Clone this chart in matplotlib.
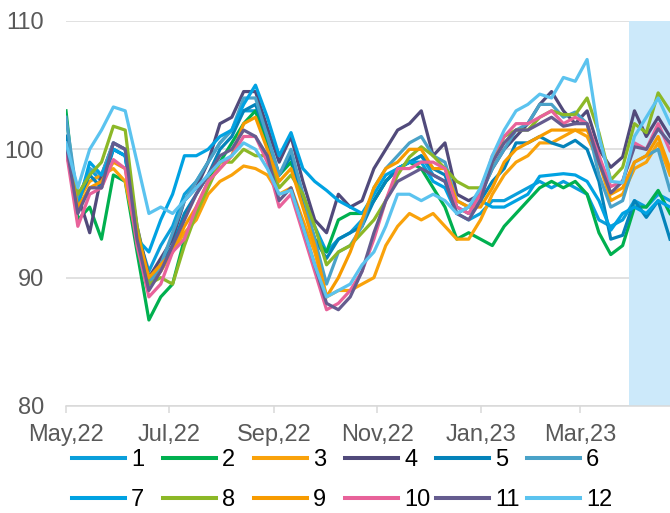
import numpy as np
import pandas as pd
import matplotlib
matplotlib.use("Agg")
import matplotlib.pyplot as plt
import matplotlib.dates as mdates

plt.rcParams['font.family'] = ['Liberation Sans', 'DejaVu Sans']

# weekly readings, May 1 2022 -> Apr 23 2023
dates = pd.date_range('2022-05-01', periods=52, freq='7D')
shade_start = pd.Timestamp('2023-03-30')

s1 = [101, 96, 98.5, 97.5, 100, 99.5, 93.5, 90.5, 92.5, 94, 96.5, 97.5, 99,
      100.5, 101.5, 103, 103, 100.5, 98, 99.5, 96.5, 94, 92, 93, 93.5, 94.5,
      96, 97.5, 98.5, 99, 99.5, 98, 97.5, 95, 94.5, 95, 96, 96, 96.5,
      97, 97.5, 97, 97.5, 97, 96.5, 94.5, 94, 94.5, 96, 95.5, 96.5, 96]
s2 = [103, 94.5, 95.5, 93, 98, 97.5, 92, 86.7, 88.5, 89.5, 93, 95, 97.5,
      99, 100.5, 102, 103, 100.5, 98, 99, 96, 93, 92, 94.5, 95, 95,
      96, 97.5, 98.5, 99, 98.5, 97, 95.5, 93, 93.5, 93, 92.5, 94, 95,
      96, 97, 97.5, 97, 97.5, 96.5, 93.5, 91.8, 92.5, 95.5, 95.5, 96.8, 95]
s3 = [100, 96, 97.5, 98, 98.5, 97.5, 93, 89.5, 90.5, 92, 93.5, 94.5, 96.5,
      97.5, 98, 98.7, 98.5, 98, 96.5, 97, 94.5, 92, 88.5, 89, 89, 89.5,
      90, 92.5, 94, 95, 94.5, 95, 94, 93, 93, 94.5, 96.5, 98, 99,
      99.5, 100.5, 100.5, 101, 101.5, 101, 99, 96, 96.5, 98.5, 99, 100.5, 98]
s4 = [101, 96.5, 93.5, 98, 100.5, 100, 94, 90, 91.5, 93, 96, 97, 99,
      102, 102.5, 104.5, 104.5, 101.7, 99, 101, 97.5, 94.5, 93.5, 96.5, 95.5, 96,
      98.5, 100, 101.5, 102, 103, 99.5, 100.5, 96.5, 96, 96.5, 98.5, 100, 101,
      102, 103.5, 104.5, 103, 102, 103, 100, 98.6, 99.4, 103, 101, 102.5, 101]
s5 = [101, 96, 98, 97, 100, 99.5, 93.5, 89.5, 91, 92.5, 95, 96.5, 98,
      100, 101, 103, 103.5, 101, 98, 99.5, 96, 93, 91.5, 93, 93.5, 94,
      96, 97.5, 98.5, 99, 99.5, 98.5, 98, 95.5, 95, 96, 97.5, 98.5, 100.5,
      100.5, 101, 100.5, 100.2, 100.7, 100, 97.5, 93, 93.3, 96, 94.7, 96, 93]
s6 = [102.5, 96, 98.5, 98, 100.5, 100, 93.5, 89.5, 91, 93.5, 96, 97.5, 99,
      100.5, 101.5, 104, 104, 101, 98, 100, 96.5, 93, 89.5, 92, 92.5, 94,
      97, 98.5, 99.5, 100.5, 101, 99.5, 99, 96, 95.5, 96.5, 98.5, 100, 101.5,
      102, 103.5, 103.5, 102.5, 102.9, 102, 98, 95.5, 96, 99, 99.5, 100, 96.8]
s7 = [100, 95.5, 99, 98, 100, 99.5, 93, 92, 94.5, 96.5, 99.5, 99.5, 100,
      101, 101.5, 103.5, 105, 102.5, 99.5, 101.3, 98.5, 97.5, 96.8, 96, 95.5, 95,
      96.5, 98, 98.5, 99, 99, 97.5, 97, 95, 95.5, 96, 95.5, 95.5, 96,
      96.5, 97.9, 98, 98.1, 98, 97.5, 96, 93.7, 95, 95.5, 95, 96, 95.5]
s8 = [100, 96.5, 98, 99, 101.8, 101.5, 94, 89.5, 90, 89.5, 92.5, 95, 97,
      99, 99, 100, 99.5, 99.5, 97, 98, 96.5, 94, 91, 92, 92.5, 93.5,
      94.5, 96, 98, 99.4, 100.2, 99.5, 98.5, 97.5, 97, 97, 99, 101, 101.5,
      101.5, 102.5, 103, 102.7, 102.7, 104, 101.3, 97.6, 98.6, 102, 101.3, 104.4, 103]
s9 = [100, 95.5, 97, 97.5, 99, 98.5, 93.5, 90, 91, 92, 94, 95.5, 97.5,
      98.5, 99.5, 102, 102.5, 100, 97.5, 98.5, 95.5, 92.5, 88.5, 90, 92, 94.5,
      97, 98.5, 99, 100, 100, 98.5, 98.5, 96, 95.5, 95.5, 97, 99, 100,
      100.5, 101, 101.5, 101.5, 101.5, 101.5, 99.5, 96.5, 97, 99, 99.5, 101, 98.5]
s10 = [100, 94, 96.5, 97, 99.2, 98.5, 92.5, 88.5, 89.5, 92, 93, 95.5, 97.5,
       98.5, 99.5, 101, 101, 99, 95.5, 96.5, 93.5, 90.5, 87.5, 88, 89, 90.5,
       93, 96, 98.5, 98.5, 99, 99, 98.5, 95.5, 95, 96.5, 99.5, 101, 102,
       102, 102.5, 103, 102, 102.5, 102, 99.5, 97.1, 97.5, 100.5, 100, 102, 99.9]
s11 = [100.5, 95, 97, 97, 100.5, 100, 93, 89, 90.5, 92.5, 94.5, 96.5, 98,
       99.5, 100, 101.5, 101, 99.5, 96, 97, 94, 91, 88, 87.5, 88.5, 90.5,
       93.5, 96, 97.5, 98, 98.5, 98, 97.5, 95, 94.5, 96, 99, 100.5, 101.5,
       101.5, 102, 102.5, 101.8, 102, 102, 99, 96.6, 97.5, 100.2, 100, 101.6, 100.5]
s12 = [100.5, 97, 100, 101.5, 103.3, 103, 99, 95, 95.5, 95, 96, 97, 98,
       99, 99.5, 100.5, 100, 98.5, 96.5, 96.8, 94, 91, 88.5, 89, 89.5, 91,
       92, 94, 96.5, 96.5, 96, 96.5, 96, 95, 95.5, 97, 99.5, 101.5, 103,
       103.5, 104.3, 104, 105.6, 105.3, 107, 101, 97.5, 97.4, 101, 102.5, 104, 102]

series = [s1, s2, s3, s4, s5, s6, s7, s8, s9, s10, s11, s12]
labels = [str(i) for i in range(1, 13)]
colors = ['#0A9FDB', '#00B04F', '#F9A20B', '#514A7B', '#0483BA', '#4AA2C8',
          '#00A2E2', '#8CB827', '#F79B00', '#E8629A', '#655C8F', '#5BC3EF']

fig = plt.figure(figsize=(6.7, 5.13), dpi=100)
ax = fig.add_axes([0.0985, 0.2086, 0.9015, 0.7505])

ax.axvspan(shade_start, dates[-1], color='#CCE9FA', lw=0, zorder=0.8)

lines = []
for s, lab, col in zip(series, labels, colors):
    ln, = ax.plot(dates, s, color=col, lw=2.3, label=lab, zorder=2)
    lines.append(ln)

ax.set_xlim(dates[0], dates[-1])
ax.set_ylim(80, 110)
ax.set_yticks([80, 90, 100, 110])
ax.set_axisbelow(True)
ax.grid(axis='y', color='#D9D9D9', lw=1.1)
ax.grid(axis='x', visible=False)

for side in ['top', 'right', 'left']:
    ax.spines[side].set_visible(False)
ax.spines['bottom'].set_color('#D9D9D9')
ax.spines['bottom'].set_linewidth(1.1)

ax.xaxis.set_major_locator(mdates.MonthLocator(bymonth=[1, 3, 5, 7, 9, 11]))
ax.xaxis.set_major_formatter(mdates.DateFormatter('%b,%y'))
ax.tick_params(axis='x', colors='#D9D9D9', length=5, width=1.1, pad=8,
               labelcolor='#595959', labelsize=17)
ax.tick_params(axis='y', length=0, pad=16, labelcolor='#595959', labelsize=17)

# legend: six columns, two rows
for i in range(6):
    h = [lines[i], lines[i + 6]]
    leg = fig.legend(h, [labels[i], labels[i + 6]], loc='upper left',
                     bbox_to_anchor=((72 + 91 * i) / 670, 1 - 449 / 513),
                     frameon=False, fontsize=17, handlelength=2.25,
                     handletextpad=0.25, borderpad=0, borderaxespad=0,
                     labelspacing=0.78)
    for lh in leg.legend_handles:
        lh.set_linewidth(2.9)

fig.savefig('out.png', dpi=100)
